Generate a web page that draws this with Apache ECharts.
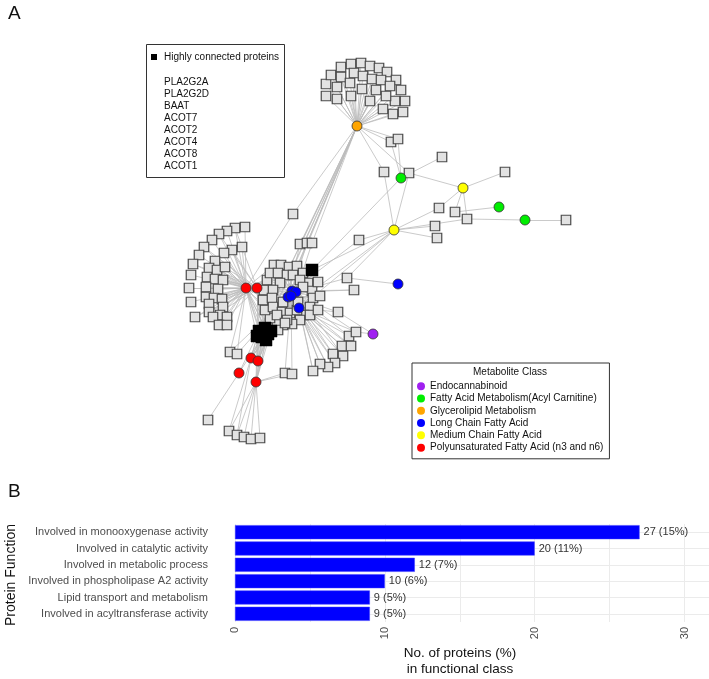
<!DOCTYPE html>
<html><head><meta charset="utf-8">
<script src="https://cdn.jsdelivr.net/npm/echarts@6/dist/echarts.min.js"></script>
<style>html,body{margin:0;padding:0;background:#fff}#c{width:709px;height:679px}</style>
</head><body><div id="c"></div>
<script>
// ================= Panel B data =================
const functionCategories = [
  'Involved in monooxygenase activity',
  'Involved in catalytic activity',
  'Involved in metabolic process',
  'Involved in phospholipase A2 activity',
  'Lipid transport and metabolism',
  'Involved in acyltransferase activity'
];
const proteinCounts = [27, 20, 12, 10, 9, 9];
const proteinPercents = [15, 11, 7, 6, 5, 5];
const valueTickLabels = [0, 10, 20, 30];

// ================= Panel A data =================
const metaboliteClasses = [
  'Endocannabinoid',
  'Fatty Acid Metabolism(Acyl Carnitine)',
  'Glycerolipid Metabolism',
  'Long Chain Fatty Acid',
  'Medium Chain Fatty Acid',
  'Polyunsaturated Fatty Acid (n3 and n6)'
];
const classColors = ['#a020f0', '#00ee00', '#ffa500', '#0000ff', '#ffff00', '#ff0000'];
const hubProteinNames = ['PLA2G2A', 'PLA2G2D', 'BAAT', 'ACOT7', 'ACOT2', 'ACOT4', 'ACOT8', 'ACOT1'];

// metabolite nodes: [id, class index, layout x, layout y]
const metaboliteNodes = [
  ['O', 2, 357, 126], ['G1', 1, 401, 178], ['Y1', 4, 463, 188], ['G2', 1, 499, 207],
  ['G3', 1, 525, 220], ['Y2', 4, 394, 230], ['Bx', 3, 398, 284], ['Pu', 0, 373, 334],
  ['R1', 5, 246, 288], ['R2', 5, 257, 288], ['R3', 5, 251, 358], ['R4', 5, 258, 361],
  ['R5', 5, 239, 373], ['R6', 5, 256, 382],
  ['B1', 3, 292, 291], ['B2', 3, 296, 292], ['B3', 3, 288, 297], ['B4', 3, 291, 296], ['B5', 3, 299, 308]
];
// highly connected proteins: [id, x, y]
const hubNodes = [
  ['H1', 312, 270], ['H2', 259, 331], ['H3', 265, 328], ['H4', 268, 334], ['H5', 262, 337],
  ['H6', 266, 340], ['H7', 257, 336], ['H8', 271, 331]
];
// protein (square) layout positions per group
const topFan = [[326,96],[326,84],[331,75],[341,67],[351,64],[361,63],[370,66],[379,68],[387,72],[396,80],
  [401,90],[405,101],[403,112],[393,114],[337,99],[337,87],[341,77],[354,73],[363,76],[372,79],
  [381,80],[390,86],[395,101],[383,109],[350,83],[351,96],[362,89],[370,101],[376,90],[386,96]];
const leftFan = [[245,227],[235,228],[227,231],[219,234],[212,240],[204,247],[199,255],[193,264],[191,275],
  [189,288],[191,302],[195,317],[242,247],[232,250],[224,253],[215,261],[209,268],[217,270],[225,267],
  [207,277],[215,279],[223,280],[206,287],[218,289],[206,297],[214,298],[222,299],[209,304],[223,307],
  [209,312],[220,315],[213,317],[227,317],[219,325],[227,325]];
const centerCluster = [[274,265],[281,265],[289,267],[297,266],[303,273],[308,283],[312,291],[313,298],
  [310,307],[304,315],[300,320],[292,324],[283,325],[277,323],[270,318],[265,310],[263,300],[264,290],
  [267,280],[270,273],[278,273],[287,275],[293,275],[300,280],[303,287],[280,283],[273,290],[272,298],
  [273,307],[282,312],[290,313],[297,310],[298,302],[283,302],[277,315],[287,320],[310,315],[318,310],
  [318,282],[320,296],[278,330],[285,323]];
const lowerRightFan = [[349,336],[356,332],[342,346],[351,346],[333,354],[343,356],[335,363],[328,367],[320,364],[313,371]];
const bottomFan = [[229,431],[237,435],[244,437],[251,439],[260,438]];
const lowerMid = [[285,373],[292,374]];
const lowerLeft = [[230,352],[237,354]];
// single proteins: [id, x, y]
const singleProteins = [
  ['Sa',391,142],['Sb',398,139],['Sc',384,172],['Sd',409,173],['Se',442,157],['Sf',505,172],
  ['T1',439,208],['T2',455,212],['T3',467,219],['T4',566,220],['T5',435,226],['T6',437,238],
  ['U1',359,240],['V1',347,278],['V2',354,290],['Q1',293,214],['P1',300,244],['P2',307,243],
  ['P3',312,243],['W1',338,312],['Z1',208,420]
];
// explicit edges
const singleEdges = [
  ['O','Sa'],['O','Sb'],['Sa','G1'],['Sb','G1'],['O','Sc'],['Sc','Y2'],['O','Sd'],['Sd','Y2'],['Sd','Y1'],
  ['G1','Se'],['Y1','Sf'],['Y1','T1'],['Y1','T2'],['Y1','T3'],['G2','T2'],['G3','T3'],['G3','T4'],
  ['Y2','T1'],['Y2','T5'],['Y2','T6'],['Y2','T3'],['U1','Y2'],['U1','B1'],['Y2','H1'],['Y2','H2'],['Y2','H4'],
  ['V1','Y2'],['V1','Bx'],['V1','B2'],['V2','B2'],['V2','B1'],['Q1','O'],['Q1','R1'],
  ['P1','O'],['P2','O'],['P3','O'],['P1','B3'],['P2','B1'],['P3','B2'],
  ['H1','B1'],['H1','B2'],['H1','R1'],['H1','G1'],['H1','R2'],
  ['W1','B4'],['W1','B5'],['Pu','W1'],['Z1','R5'],['R5','H2'],['R5','H5']
];

// ================= build graph =================
const nodes = [], links = [];
const protCat = metaboliteClasses.length, hubCat = metaboliteClasses.length + 1;
function addGroup(prefix, arr) { return arr.map((p, i) => { const id = prefix + i; nodes.push({name: id, value: p, category: protCat}); return id; }); }
const tf = addGroup('tf', topFan), lf = addGroup('lf', leftFan), cc = addGroup('cc', centerCluster);
const lr = addGroup('lr', lowerRightFan), bf = addGroup('bf', bottomFan), lm = addGroup('lm', lowerMid), ll = addGroup('ll', lowerLeft);
singleProteins.forEach(s => nodes.push({name: s[0], value: [s[1], s[2]], category: protCat}));
hubNodes.forEach(h => nodes.push({name: h[0], value: [h[1], h[2]], category: hubCat}));
metaboliteNodes.forEach(m => nodes.push({name: m[0], value: [m[2], m[3]], category: m[1]}));

const L = (a, b) => links.push({source: a, target: b});
tf.forEach(id => L('O', id));
lf.forEach((id, i) => { L('R1', id); if (i % 2) L('R2', id); });
const blues = ['B1', 'B2', 'B3', 'B4'];
cc.forEach((id, i) => { L(blues[i % 4], id); if (i % 3 === 0) L('R1', id); if (i % 4 === 1) L('R2', id); });
lr.forEach((id, i) => { L('B5', id); L(blues[i % 4], id); });
L('Pu', lr[1]);
bf.forEach((id, i) => { L('R6', id); if (i < 2) L('R3', id); });
lm.forEach(id => { L('R6', id); L('B4', id); });
ll.forEach(id => { L('R1', id); L('B3', id); });
hubNodes.slice(1).forEach(h => { ['O','R1','R2','R3','R4','R6','B3','B5'].forEach(m => L(h[0], m)); });
singleEdges.forEach(e => L(e[0], e[1]));

const categories = metaboliteClasses.map((n, i) => ({
  name: n, symbol: 'circle', symbolSize: 10,
  itemStyle: {color: classColors[i], borderColor: '#333', borderWidth: 0.8}
})).concat([
  {name: 'Protein', symbol: 'rect', symbolSize: 9.5, itemStyle: {color: '#e2e2e2', borderColor: '#4a4a4a', borderWidth: 1.2}},
  {name: 'Highly connected protein', symbol: 'rect', symbolSize: 12, itemStyle: {color: '#000', borderColor: '#000', borderWidth: 0.5}}
]);

const FONT = 'Liberation Sans, Arial, sans-serif';
const chart = echarts.init(document.getElementById('c'));
chart.setOption({
  animation: false,
  backgroundColor: '#fff',
  textStyle: {fontFamily: FONT},
  grid: [
    {left: 235, right: 2, top: 524, height: 98},
    {left: 0, top: 0, width: 709, height: 679}
  ],
  xAxis: [
    {type: 'value', gridIndex: 0, min: 0, max: 31.5, interval: 5,
     axisLine: {show: false}, axisTick: {show: false},
     splitLine: {show: true, showMaxLine: false, lineStyle: {color: '#ebebeb', width: 1}},
     axisLabel: {rotate: 90, margin: 5, color: '#4d4d4d', fontSize: 11, fontFamily: FONT,
       formatter: v => valueTickLabels.indexOf(v) >= 0 ? String(v) : ''}},
    {type: 'value', gridIndex: 1, min: 0, max: 709, show: false}
  ],
  yAxis: [
    {type: 'category', gridIndex: 0, data: functionCategories, inverse: true, offset: 22,
     axisLine: {show: false},
     axisTick: {show: true, alignWithLabel: true, inside: true, length: 494, lineStyle: {color: '#ebebeb', width: 1}},
     axisLabel: {margin: 5, color: '#4d4d4d', fontSize: 11, fontFamily: FONT}},
    {type: 'value', gridIndex: 1, min: 0, max: 679, inverse: true, show: false}
  ],
  legend: {
    data: metaboliteClasses, orient: 'vertical', left: 412, top: 363,
    padding: [17, 6, 5, 5], itemGap: 0, itemWidth: 8, itemHeight: 8, icon: 'circle',
    borderColor: '#333', borderWidth: 1, backgroundColor: '#fff',
    itemStyle: {borderWidth: 0},
    textStyle: {fontSize: 10, color: '#111', fontFamily: FONT, lineHeight: 12.3},
    selectedMode: false
  },
  series: [
    {type: 'bar', xAxisIndex: 0, yAxisIndex: 0, data: proteinCounts, barWidth: '86%',
     itemStyle: {color: '#0000ff', borderColor: '#3d3dff', borderWidth: 0.5},
     label: {show: true, position: 'right', distance: 4, color: '#333', fontSize: 11, fontFamily: FONT,
       formatter: p => proteinCounts[p.dataIndex] + ' (' + proteinPercents[p.dataIndex] + '%)'},
     silent: true},
    {type: 'graph', coordinateSystem: 'cartesian2d', xAxisIndex: 1, yAxisIndex: 1, layout: 'none',
     data: nodes, links: links, categories: categories, legendHoverLink: false, silent: true,
     label: {show: false}, lineStyle: {color: '#bcbcbc', width: 0.8, opacity: 1, curveness: 0}}
  ],
  graphic: [
    {type: 'text', left: 8, top: 4, style: {text: 'A', fontSize: 19, fontFamily: FONT, fill: '#111'}},
    {type: 'text', left: 8, top: 482, style: {text: 'B', fontSize: 19, fontFamily: FONT, fill: '#111'}},
    {type: 'rect', shape: {x: 146.5, y: 44.5, width: 138, height: 133}, style: {fill: '#fff', stroke: '#333', lineWidth: 1}, z: 10},
    {type: 'rect', shape: {x: 151, y: 54, width: 6, height: 6}, style: {fill: '#000'}, z: 11},
    {type: 'text', x: 164, y: 57, style: {text: 'Highly connected proteins', fontSize: 10, fontFamily: FONT, fill: '#111', verticalAlign: 'middle'}, z: 11},
    {type: 'text', x: 164, y: 76, style: {text: hubProteinNames.join('\n'), fontSize: 10, lineHeight: 12, fontFamily: FONT, fill: '#111', verticalAlign: 'top'}, z: 11},
    {type: 'text', x: 510, y: 372, style: {text: 'Metabolite Class', fontSize: 10, fontFamily: FONT, fill: '#111', align: 'center', verticalAlign: 'middle'}, z: 20},
    {type: 'text', x: 460, y: 645, style: {text: 'No. of proteins (%)\nin functional class', fontSize: 13.5, lineHeight: 16, fontFamily: FONT, fill: '#111', align: 'center', verticalAlign: 'top'}},
    {type: 'text', x: 11, y: 575, rotation: Math.PI / 2, style: {text: 'Protein Function', fontSize: 14, fontFamily: FONT, fill: '#111', align: 'center', verticalAlign: 'middle'}}
  ]
});
</script></body></html>
